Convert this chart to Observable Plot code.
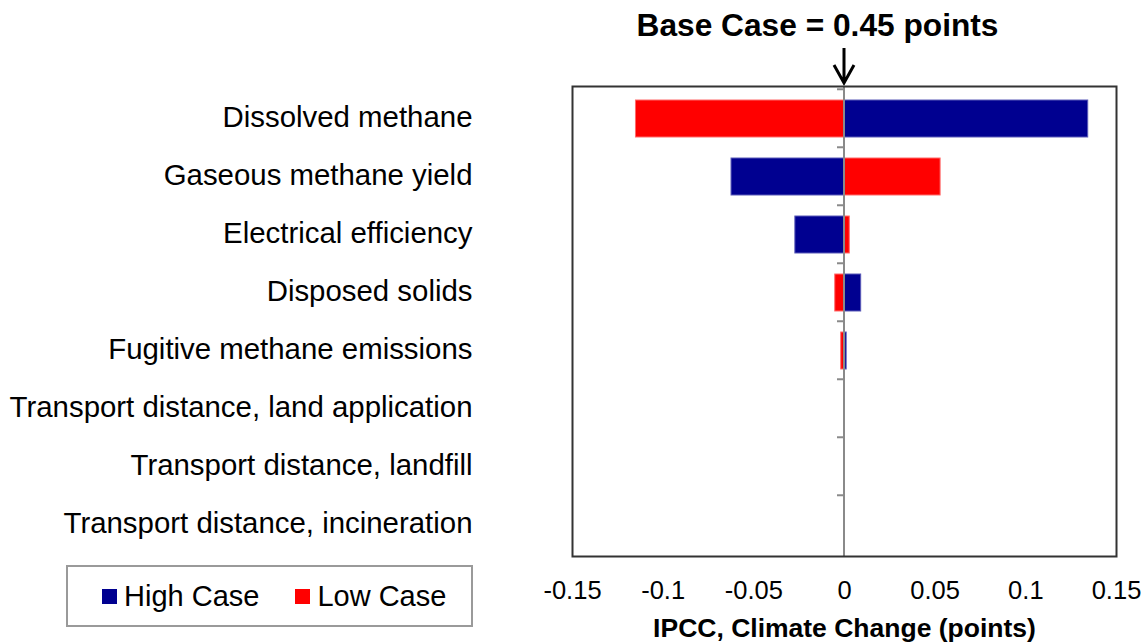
<!DOCTYPE html>
<html>
<head>
<meta charset="utf-8">
<script src="https://cdn.jsdelivr.net/npm/d3@7"></script>
<script src="https://cdn.jsdelivr.net/npm/@observablehq/plot@0.6"></script>
<style>
  html, body { margin: 0; padding: 0; background: #fff; }
  #wrap { position: relative; width: 1148px; height: 644px; font-family: "Liberation Sans", Arial, sans-serif; }
  #legend { position: absolute; left: 66px; top: 565px; width: 403px; height: 58px; border: 2px solid #9a9a9a; display: flex; align-items: center; font-size: 29px; color: #000; line-height: 1; }
  .item { display: flex; align-items: center; }
  .sw { width: 15px; height: 15px; display: inline-block; margin-right: 7px; }
</style>
</head>
<body>
<div id="wrap"></div>
<script>
const categories = [
  "Dissolved methane",
  "Gaseous methane yield",
  "Electrical efficiency",
  "Disposed solids",
  "Fugitive methane emissions",
  "Transport distance, land application",
  "Transport distance, landfill",
  "Transport distance, incineration"
];
const highCase = [0.1344, -0.0623, -0.0271, 0.0092, 0.0012, 0, 0, 0];
const lowCase  = [-0.115, 0.053, 0.0029, -0.0051, -0.0018, 0, 0, 0];
const xTicks = [-0.15, -0.1, -0.05, 0, 0.05, 0.1, 0.15];
const seriesNames = ["High Case", "Low Case"];
const seriesColors = ["#000090", "#ff0000"];
const titleText = "Base Case = 0.45 points";
const xLabel = "IPCC, Climate Change (points)";

const highData = categories.map((c, i) => ({category: c, value: highCase[i]}));
const lowData = categories.map((c, i) => ({category: c, value: lowCase[i]}));

const PAD = 0.37;

function zeroLineAndTicks(index, scales, values, dimensions) {
  const g = d3.create("svg:g");
  const x0 = scales.x(0);
  const step = scales.y(categories[1]) - scales.y(categories[0]);
  categories.forEach(c => {
    const yb = scales.y(c) - step * PAD / 2;
    g.append("line").attr("x1", x0 - 7).attr("x2", x0).attr("y1", yb).attr("y2", yb)
      .attr("stroke", "#8a8a8a").attr("stroke-width", 2);
  });
  g.append("line").attr("x1", x0).attr("x2", x0)
    .attr("y1", dimensions.marginTop).attr("y2", dimensions.height - dimensions.marginBottom)
    .attr("stroke", "#8a8a8a").attr("stroke-width", 2);
  const top = dimensions.marginTop;
  g.append("path")
    .attr("d", `M${x0},${top - 38}L${x0},${top - 3}M${x0 - 10},${top - 21}L${x0},${top - 3}L${x0 + 10},${top - 21}`)
    .attr("fill", "none").attr("stroke", "#000").attr("stroke-width", 3);
  return g.node();
}

const chart = Plot.plot({
  width: 1148,
  height: 644,
  marginLeft: 572,
  marginRight: 32,
  marginTop: 86,
  marginBottom: 88,
  style: { fontFamily: "Liberation Sans, Arial, sans-serif", background: "#fff", color: "#000" },
  x: { domain: [-0.15, 0.15] },
  y: { domain: categories, paddingInner: PAD, paddingOuter: PAD / 2 },
  marks: [
    Plot.barX(highData, { y: "category", x1: 0, x2: "value", fill: seriesColors[0], stroke: "#5a5ab8", strokeWidth: 1 }),
    Plot.barX(lowData, { y: "category", x1: 0, x2: "value", fill: seriesColors[1], stroke: "#ff6a6a", strokeWidth: 1 }),
    zeroLineAndTicks,
    Plot.frame({ stroke: "#333", strokeWidth: 2 }),
    Plot.axisY({ tickSize: 0, tickPadding: 100, fontSize: 29.4, label: null, dy: -1 }),
    Plot.axisX({ ticks: xTicks, tickSize: 0, tickPadding: 24, fontSize: 25.5, tickFormat: d => String(d), label: null }),
    Plot.text([xLabel], { frameAnchor: "bottom", lineAnchor: "top", text: d => d, dy: 62, fontSize: 26.5, fontWeight: "bold" }),
    Plot.text([titleText], { frameAnchor: "top", lineAnchor: "top", text: d => d, dx: -27, dy: -73, fontSize: 31.7, fontWeight: "bold" })
  ]
});

const wrap = document.getElementById("wrap");
wrap.appendChild(chart);

const legend = document.createElement("div");
legend.id = "legend";
seriesNames.forEach((name, i) => {
  const item = document.createElement("span");
  item.className = "item";
  item.style.marginLeft = i === 0 ? "34px" : "36px";
  const sw = document.createElement("span");
  sw.className = "sw";
  sw.style.background = seriesColors[i];
  item.appendChild(sw);
  item.appendChild(document.createTextNode(name));
  legend.appendChild(item);
});
wrap.appendChild(legend);
</script>
</body>
</html>
